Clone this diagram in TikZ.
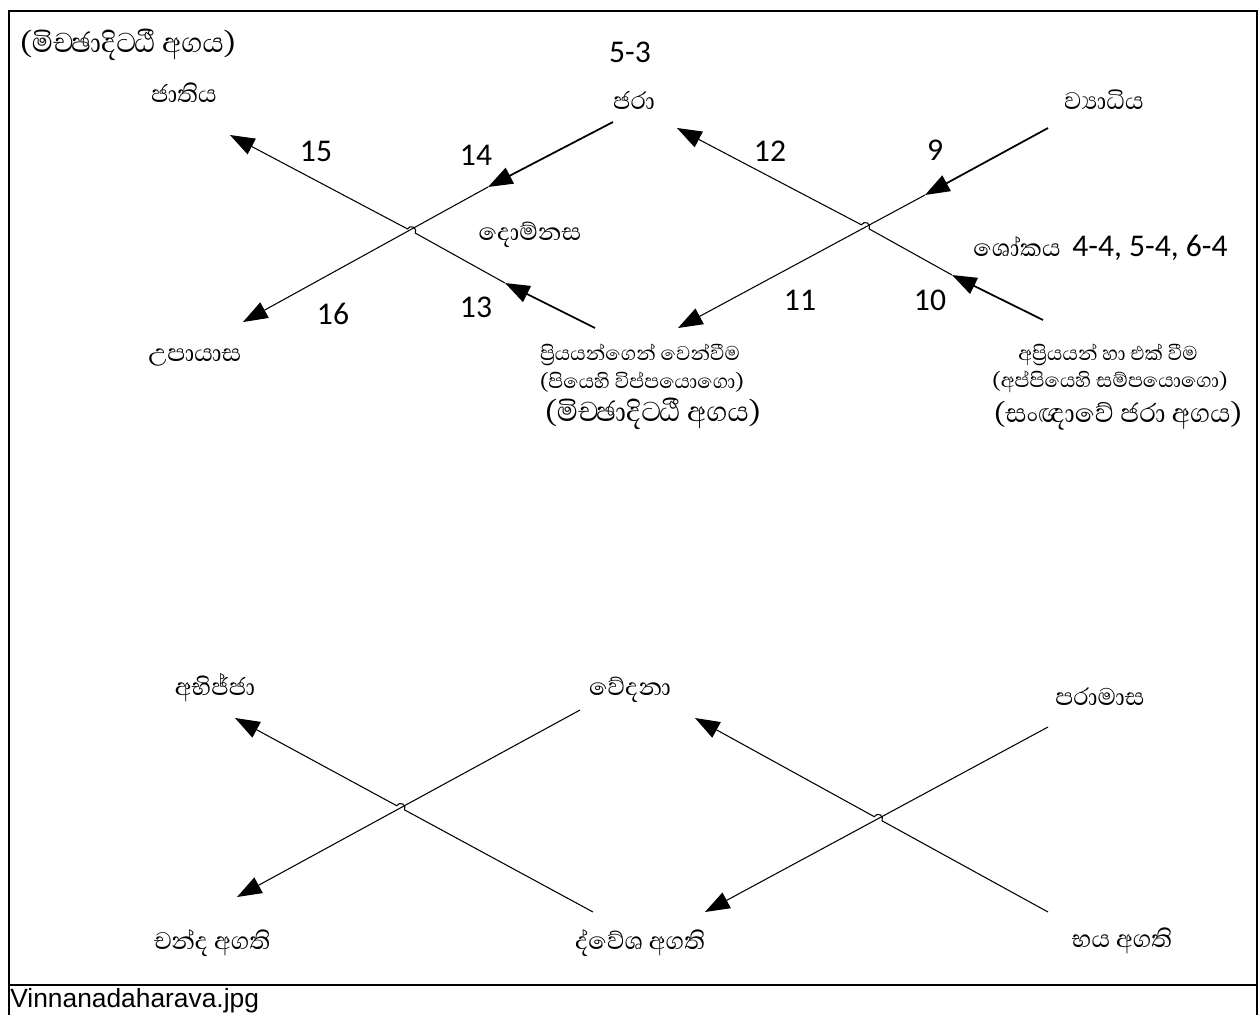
\documentclass[tikz,border=0pt]{standalone}
\usepackage{fontspec}
\usepackage{tikz}
\usetikzlibrary{arrows.meta,calc}
\newfontfamily\sinhala[Script=Sinhala]{Abhaya Libre}
\newfontfamily\calib{Carlito}
\newfontfamily\arialf{Liberation Sans}
\tikzset{
  sintext/.style={font=\sinhala\fontsize{17.5}{20}\selectfont,inner sep=0pt},
  sinbig/.style={font=\sinhala\fontsize{20}{24}\selectfont,inner sep=0pt},
  sinsmall/.style={font=\sinhala\fontsize{14.5}{17}\selectfont,inner sep=0pt},
  numtext/.style={font=\calib\fontsize{18}{21}\selectfont,inner sep=0pt},
}

\begin{document}
\begin{tikzpicture}[x=0.02cm,y=-0.02cm,>={Triangle[length=14pt,width=10pt]}]
\useasboundingbox (0,0) rectangle (1260,1015);
%
% frame and caption row
\draw[line width=1.1pt] (9,11) rectangle (1257,985);
\draw[line width=1.1pt] (9,985) -- (9,1015);
\draw[line width=1.1pt] (1257,985) -- (1257,1015);
\node[anchor=west,inner sep=0pt,font=\arialf\fontsize{15}{18}\selectfont] (cap) at (10,1001) {Vinnanadaharava.jpg};
%
% upper left cross
\node[sinbig] (md1) at (128,45) {(මිච‍්ඡාදිට‍්ඨී අගය)};
\node[sintext] (jati) at (184,93) {ජාතිය};
\node[numtext] (n53) at (630,52) {5-3};
\node[sintext] (jara) at (634,100) {ජරා};
\node[sintext] (doma) at (530,235) {දොම්නස};
\node[sintext] (upay) at (195,357) {උපායාස};
\node[numtext] (n15) at (316,151) {15};
\node[numtext] (n14) at (476,155) {14};
\node[numtext] (n16) at (333,314) {16};
\node[numtext] (n13) at (476,307) {13};
%
\coordinate (jaraS) at (613,122);
\coordinate (tip14) at (488,187);
\coordinate (tip16) at (243,322);
\coordinate (priyS) at (595,328);
\coordinate (tip13) at (505,283);
\coordinate (tip15) at (230,135);
\coordinate (xtl) at (intersection of jaraS--tip16 and priyS--tip15);
\draw[->,line width=1pt] (jaraS) -- (tip14);
\draw[->,line width=0.6pt] (tip14) -- (tip16);
\draw[->,line width=1pt] (priyS) -- (tip13);
\draw[->,line width=0.6pt] (tip13) -- ($(xtl)!2.5pt!(tip13)$) arc[start angle=-28,end angle=152,radius=2.5pt] -- (tip15);
%
% upper right cross
\node[sintext] (vyad) at (1104,100) {ව්‍යාධිය};
\node[anchor=east,inner sep=0pt] (shok) at (1228,248) {\sinhala\fontsize{17.5}{20}\selectfont ශෝකය\ \ \calib\fontsize{18}{21}\selectfont 4-4, 5-4, 6-4};
\node[numtext] (n12) at (770,151) {12};
\node[numtext] (n9) at (935,150) {9};
\node[numtext] (n11) at (800,300) {11};
\node[numtext] (n10) at (930,300) {10};
%
\node[sinsmall] (priy) at (640,355) {ප්‍රියයන්ගෙන් වෙන්වීම};
\node[sinsmall] (priyp) at (642,382) {(පියෙහි විප්පයොගො)};
\node[sinbig] (md2) at (653,414) {(මිච‍්ඡාදිට‍්ඨී අගය)};
\node[sinsmall] (apri) at (1108,355) {අප්‍රියයන් හා එක් වීම};
\node[sinsmall] (aprip) at (1110,382) {(අප්පියෙහි සම්පයොගො)};
\node[sinbig,font=\sinhala\fontsize{19}{23}\selectfont] (sanj) at (1118,416) {(සංඥාවේ ජරා අගය)};
%
\coordinate (vyadS) at (1048,128);
\coordinate (tip9) at (925,195);
\coordinate (tip11) at (678,328);
\coordinate (apriS) at (1043,320);
\coordinate (tip10) at (952,275);
\coordinate (tip12) at (677,128);
\coordinate (xtr) at (intersection of vyadS--tip11 and apriS--tip12);
\draw[->,line width=1pt] (vyadS) -- (tip9);
\draw[->,line width=0.6pt] (tip9) -- (tip11);
\draw[->,line width=1pt] (apriS) -- (tip10);
\draw[->,line width=0.6pt] (tip10) -- ($(xtr)!2.5pt!(tip10)$) arc[start angle=-28,end angle=152,radius=2.5pt] -- (tip12);
%
% lower left cross
\node[sintext] (abhi) at (215,688) {අභිජ්ජා};
\node[sintext] (chan) at (212,943) {චන්ද අගති};
\coordinate (vedS) at (580,710);
\coordinate (tipC) at (237,897);
\coordinate (dveS) at (593,912);
\coordinate (tipA) at (235,718);
\coordinate (xbl) at (intersection of vedS--tipC and dveS--tipA);
\draw[->,line width=0.6pt] (vedS) -- (tipC);
\draw[->,line width=0.6pt] (dveS) -- ($(xbl)!2.5pt!(dveS)$) arc[start angle=-28,end angle=152,radius=2.5pt] -- (tipA);
%
% lower right cross
\node[sintext] (veda) at (630,690) {වේදනා};
\node[sintext] (para) at (1100,697) {පරාමාස};
\node[sintext] (dves) at (640,943) {ද්වේශ අගති};
\node[sintext] (bhay) at (1122,941) {භය අගති};
\coordinate (paraS) at (1048,727);
\coordinate (tipD) at (705,912);
\coordinate (bhayS) at (1048,912);
\coordinate (tipV) at (695,718);
\coordinate (xbr) at (intersection of paraS--tipD and bhayS--tipV);
\draw[->,line width=0.6pt] (paraS) -- (tipD);
\draw[->,line width=0.6pt] (bhayS) -- ($(xbr)!2.5pt!(bhayS)$) arc[start angle=-28,end angle=152,radius=2.5pt] -- (tipV);
\end{tikzpicture}
\end{document}
